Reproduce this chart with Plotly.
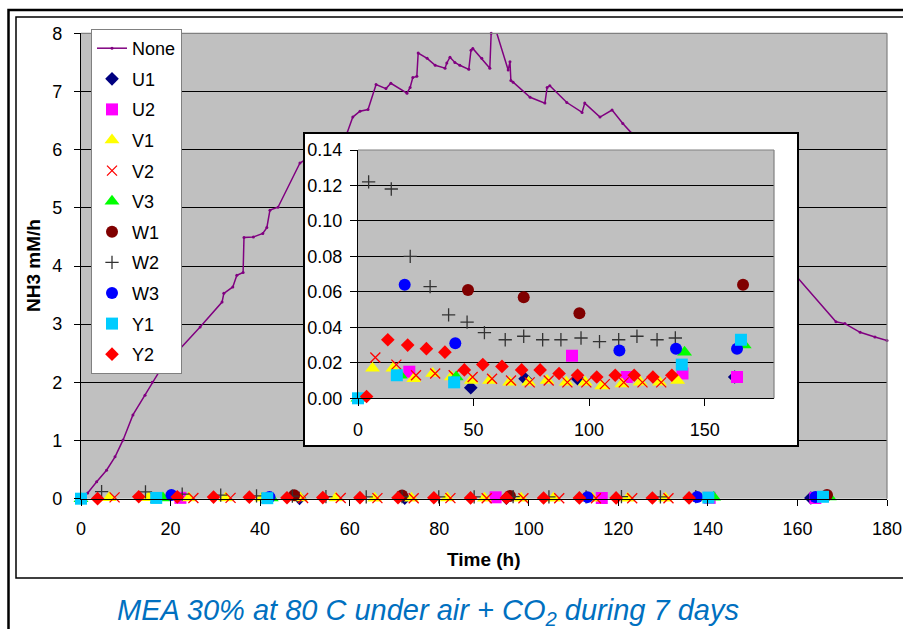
import plotly.graph_objects as go

FONT = "Arial, Liberation Sans, sans-serif"
W, H = 903, 629

# ---------------- data ----------------
# continuous NH3 emission curve (series "None")
none_t = [0, 1.5, 3.5, 5.7, 7.6, 9.4, 11.6, 14.3, 15.9, 17.6, 26.6, 31.5, 31.9, 33.9, 34.8, 36.2,
          36.4, 38.5, 40.6, 41.5, 42.2, 44.0, 48.9, 59.4, 60.7, 62.3, 64.1, 65.9, 68.1, 69.2,
          72.8, 73.5, 74.1, 75.0, 75.3, 77.3, 79.1, 81.3, 81.7, 82.4, 83.5, 84.6, 86.6, 87.1,
          87.5, 89.5, 91.3, 91.6, 92.0, 92.5, 95.4, 95.8, 96.0, 96.5, 100.3, 103.6, 104.1,
          104.7, 108.5, 111.9, 112.5, 115.9, 118.6, 121.0, 123.0, 159.9, 168.6, 170.6, 174.0,
          177.3, 180.0]
none_v = [0, 0.1, 0.29, 0.49, 0.72, 1.01, 1.44, 1.78, 2.0, 2.2, 2.95, 3.38, 3.53, 3.64, 3.84, 3.89,
          4.49, 4.5, 4.56, 4.66, 4.96, 5.01, 5.77, 6.28, 6.56, 6.66, 6.69, 7.12, 7.05, 7.14,
          6.97, 7.07, 7.24, 7.26, 7.66, 7.57, 7.45, 7.40, 7.49, 7.59, 7.50, 7.45, 7.38, 7.71,
          7.74, 7.57, 7.40, 8.0, 8.1, 8.09, 7.37, 7.51, 7.19, 7.16, 6.90, 6.80, 7.07,
          7.10, 6.81, 6.64, 6.80, 6.56, 6.68, 6.45, 6.28, 3.81, 3.04, 3.01, 2.86,
          2.78, 2.72]

U1_t = [48.8, 72.3, 95.0, 163.0]
U1_v = [0.006, 0.011, 0.011, 0.012]
U2_t = [22.2, 92.6, 116.3, 140.4, 164.0]
U2_v = [0.015, 0.024, 0.012, 0.014, 0.012]
V1_t = [6.3, 15.1, 24.1, 32.3, 40.4, 49.0, 56.9, 65.6, 73.8, 81.8, 90.1, 98.3, 105.5, 114.2, 122.1, 130.5, 138.3]
V1_v = [0.017, 0.017, 0.011, 0.014, 0.012, 0.010, 0.010, 0.009, 0.009, 0.010, 0.009, 0.009, 0.007, 0.008, 0.009, 0.009, 0.010]
V2_t = [7.5, 16.6, 25.1, 33.4, 41.4, 49.6, 58.0, 66.2, 74.3, 82.5, 90.6, 98.8, 106.8, 115.0, 123.1, 131.2]
V2_v = [0.023, 0.019, 0.013, 0.014, 0.013, 0.012, 0.011, 0.010, 0.009, 0.010, 0.009, 0.009, 0.008, 0.009, 0.009, 0.009]
V3_t = [0, 18.3, 42.5, 141.3, 167.1]
V3_v = [0.0, 0.013, 0.012, 0.026, 0.030]
W1_t = [47.6, 71.7, 95.8, 166.6]
W1_v = [0.061, 0.057, 0.048, 0.064]
W2_t = [4.6, 14.4, 22.6, 31.2, 39.2, 47.2, 54.7, 63.7, 71.7, 79.9, 87.8, 96.5, 104.5, 112.8, 120.7, 129.4, 137.3]
W2_v = [0.122, 0.118, 0.080, 0.063, 0.047, 0.043, 0.037, 0.033, 0.035, 0.033, 0.033, 0.034, 0.032, 0.033, 0.035, 0.033, 0.034]
W3_t = [20.2, 42.1, 113.1, 137.6, 164.0]
W3_v = [0.064, 0.031, 0.027, 0.028, 0.028]
Y1_t = [0, 16.8, 41.6, 140.1, 165.7]
Y1_v = [0.0, 0.013, 0.009, 0.019, 0.033]
Y2_t = [3.7, 12.9, 21.5, 29.6, 37.6, 46.0, 54.0, 62.3, 70.8, 78.8, 87.0, 95.0, 103.3, 111.3, 119.5, 127.6, 135.8]
Y2_v = [0.001, 0.033, 0.030, 0.028, 0.026, 0.016, 0.019, 0.018, 0.016, 0.016, 0.014, 0.013, 0.012, 0.013, 0.013, 0.012, 0.013]

main_x_ticks = [0, 20, 40, 60, 80, 100, 120, 140, 160, 180]
main_y_ticks = [0, 1, 2, 3, 4, 5, 6, 7, 8]
inset_x_ticks = [0, 50, 100, 150]
inset_y_ticks = [0.00, 0.02, 0.04, 0.06, 0.08, 0.10, 0.12, 0.14]

# ---------------- styles ----------------
series = [
    ("U1", U1_t, U1_v, dict(symbol="diamond", color="#000080", size=10.5)),
    ("U2", U2_t, U2_v, dict(symbol="square", color="#FF00FF", size=12)),
    ("V1", V1_t, V1_v, dict(symbol="triangle-up", color="#FFFF00", size=13)),
    ("V2", V2_t, V2_v, dict(symbol="x-thin-open", color="#FF0000", size=10, line=dict(color="#FF0000", width=1.3))),
    ("V3", V3_t, V3_v, dict(symbol="triangle-up", color="#00FF00", size=13)),
    ("W1", W1_t, W1_v, dict(symbol="circle", color="#800000", size=12)),
    ("W2", W2_t, W2_v, dict(symbol="cross-thin-open", color="#333333", size=9.5, line=dict(color="#333333", width=1.3))),
    ("W3", W3_t, W3_v, dict(symbol="circle", color="#0000FF", size=12)),
    ("Y1", Y1_t, Y1_v, dict(symbol="square", color="#00CCFF", size=12)),
    ("Y2", Y2_t, Y2_v, dict(symbol="diamond", color="#FF0000", size=10.5)),
]

def px_x(p):
    return p / W

def px_y(p):
    return 1 - p / H

fig = go.Figure()

# main curve
fig.add_trace(go.Scatter(x=none_t, y=none_v, mode="lines+markers", name="None",
                         legendgroup="None",
                         line=dict(color="#800080", width=1.5),
                         marker=dict(color="#800080", size=3),
                         xaxis="x", yaxis="y", cliponaxis=False))
for name, t, v, mk in series:
    fig.add_trace(go.Scatter(x=t, y=v, mode="markers", name=name, legendgroup=name,
                             marker=mk, xaxis="x", yaxis="y", cliponaxis=False))

# white inset frame subplot (empty)
fig.add_trace(go.Scatter(x=[], y=[], xaxis="x2", yaxis="y2", showlegend=False, hoverinfo="skip"))

# inset traces
for name, t, v, mk in series:
    fig.add_trace(go.Scatter(x=t, y=v, mode="markers", name=name, legendgroup=name,
                             showlegend=False, marker=mk, xaxis="x3", yaxis="y3",
                             cliponaxis=False))

tickfont = dict(family=FONT, size=18, color="black")

fig.update_layout(
    width=W, height=H,
    margin=dict(l=0, r=0, t=0, b=0, autoexpand=False),
    paper_bgcolor="white",
    plot_bgcolor="#C0C0C0",
    font=dict(family=FONT, color="black"),
    xaxis=dict(domain=[px_x(81), px_x(887)], range=[0, 180], tickvals=main_x_ticks,
               showline=True, linecolor="black", linewidth=1.2, ticks="outside", ticklen=6,
               tickcolor="black", showgrid=False, zeroline=False, tickfont=tickfont,
               ticklabelstandoff=8, anchor="y", fixedrange=True, automargin=False),
    yaxis=dict(domain=[px_y(498.7), px_y(33.3)], range=[0, 8], tickvals=main_y_ticks,
               showline=True, linecolor="black", linewidth=1.2, ticks="outside", ticklen=6,
               tickcolor="black", showgrid=True, gridcolor="black", gridwidth=1,
               zeroline=False, tickfont=tickfont, ticklabelstandoff=8, anchor="x",
               fixedrange=True, automargin=False),
    xaxis2=dict(domain=[px_x(305), px_x(797)], range=[0, 1], anchor="y2", showline=True,
                mirror=True, linecolor="black", linewidth=2, showgrid=False, zeroline=False,
                showticklabels=False, ticks="", fixedrange=True),
    yaxis2=dict(domain=[px_y(445), px_y(134)], range=[0, 1], anchor="x2", showline=True,
                mirror=True, linecolor="black", linewidth=2, showgrid=False, zeroline=False,
                showticklabels=False, ticks="", fixedrange=True),
    xaxis3=dict(domain=[px_x(358), px_x(774)], range=[0, 180], tickvals=inset_x_ticks,
                anchor="y3", showline=True, linecolor="black", linewidth=1.2, ticks="outside",
                ticklen=7, tickcolor="black", showgrid=False, zeroline=False, tickfont=tickfont,
                ticklabelstandoff=8, fixedrange=True),
    yaxis3=dict(domain=[px_y(398.3), px_y(150)], range=[0, 0.14], tickvals=inset_y_ticks,
                tickformat=".2f", anchor="x3", showline=True, linecolor="black", linewidth=1.2,
                ticks="outside", ticklen=7, tickcolor="black", showgrid=True,
                gridcolor="black", gridwidth=1, zeroline=False, tickfont=tickfont,
                ticklabelstandoff=4, fixedrange=True),
    legend=dict(x=px_x(91), y=px_y(29), xanchor="left", yanchor="top",
                bgcolor="white", bordercolor="#808080", borderwidth=1,
                font=dict(family=FONT, size=18, color="black"),
                tracegroupgap=4.2),
    showlegend=True,
)

shapes = [
    # white inset frame
    dict(type="rect", xref="x2", yref="y2", x0=0, x1=1, y0=0, y1=1,
         fillcolor="white", line=dict(width=0), layer="below"),
    # gray top/right borders of plot areas
    dict(type="line", xref="x domain", yref="y domain", x0=0, x1=1, y0=1, y1=1,
         line=dict(color="#808080", width=1.2), layer="above"),
    dict(type="line", xref="x domain", yref="y domain", x0=1, x1=1, y0=0, y1=1,
         line=dict(color="#808080", width=1.2), layer="above"),
    dict(type="line", xref="x3 domain", yref="y3 domain", x0=0, x1=1, y0=1, y1=1,
         line=dict(color="#808080", width=1.2), layer="above"),
    dict(type="line", xref="x3 domain", yref="y3 domain", x0=1, x1=1, y0=0, y1=1,
         line=dict(color="#808080", width=1.2), layer="above"),
    # chart frame
    dict(type="rect", xref="paper", yref="paper", x0=px_x(16), x1=1.2, y0=px_y(578), y1=px_y(17),
         line=dict(color="black", width=1.5), fillcolor="rgba(0,0,0,0)", layer="above"),
    # slide frame
    dict(type="rect", xref="paper", yref="paper", x0=px_x(8.5), x1=1.2, y0=-0.2, y1=px_y(10),
         line=dict(color="black", width=2.5), fillcolor="rgba(0,0,0,0)", layer="above"),
]
fig.update_layout(shapes=shapes)

annotations = [
    dict(text="<b>Time (h)</b>", xref="paper", yref="paper", x=px_x(484), y=px_y(559),
         showarrow=False, xanchor="center", yanchor="middle",
         font=dict(family=FONT, size=19, color="black")),
    dict(text="<b>NH3 mM/h</b>", xref="paper", yref="paper", x=px_x(33), y=px_y(266),
         showarrow=False, xanchor="center", yanchor="middle", textangle=-90,
         font=dict(family=FONT, size=19, color="black")),
    dict(text="<i>MEA 30% at 80 C under air + CO<sub>2</sub> during 7 days</i>",
         xref="paper", yref="paper", x=px_x(428), y=px_y(612),
         showarrow=False, xanchor="center", yanchor="middle",
         font=dict(family=FONT, size=29, color="#0070C0")),
]
fig.update_layout(annotations=annotations)

fig.write_html("out.html")
